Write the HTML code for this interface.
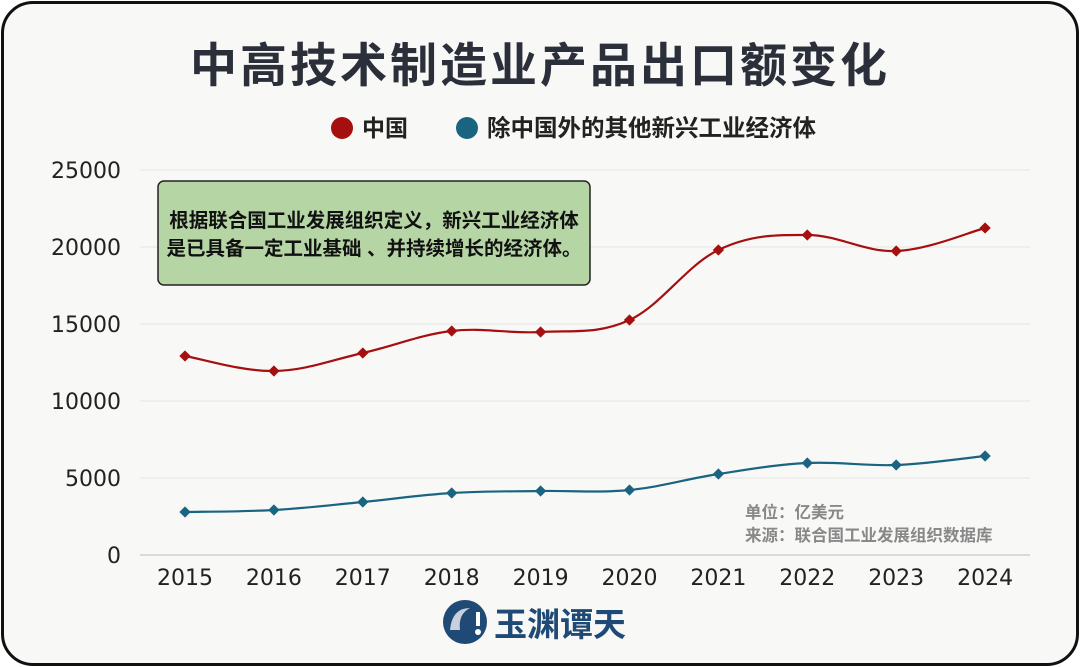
<!DOCTYPE html>
<html><head><meta charset="utf-8"><style>
html,body{margin:0;padding:0;background:#fff;}
#w{position:relative;width:1080px;height:667px;overflow:hidden;background:#fff;}
#f{position:absolute;left:1px;top:1px;width:1072px;height:659px;border:3px solid #111;border-radius:32px;background:#f8f8f6;}
svg{position:absolute;left:0;top:0;}
text{font-family:"Liberation Sans","Noto Sans CJK SC",sans-serif;}
.n{font-family:"DejaVu Sans",sans-serif;}
</style></head><body><div id="w"><div id="f"></div>
<svg width="1080" height="667" xmlns="http://www.w3.org/2000/svg">
<text x="540" y="82" text-anchor="middle" font-size="47" font-weight="bold" fill="#2b2f3a" letter-spacing="3">中高技术制造业产品出口额变化</text>
<circle cx="342" cy="128" r="11" fill="#a50f0f"/>
<text x="362" y="136" font-size="23" font-weight="bold" fill="#222">中国</text>
<circle cx="467" cy="128" r="11" fill="#1a6482"/>
<text x="487" y="136" font-size="23.5" font-weight="bold" fill="#222">除中国外的其他新兴工业经济体</text>
<g stroke="#e3e3e3" stroke-width="1">
<line x1="140" x2="1030" y1="170" y2="170"/><line x1="140" x2="1030" y1="247" y2="247"/><line x1="140" x2="1030" y1="324" y2="324"/><line x1="140" x2="1030" y1="401" y2="401"/><line x1="140" x2="1030" y1="478" y2="478"/>
</g>
<line x1="140" x2="1030" y1="555" y2="555" stroke="#bbb"/>
<g font-size="22" fill="#222" text-anchor="end" class="n">
<text class="n" x="121" y="178">25000</text><text class="n" x="121" y="255">20000</text><text class="n" x="121" y="332">15000</text><text class="n" x="121" y="409">10000</text><text class="n" x="121" y="486">5000</text><text class="n" x="121" y="563">0</text>
</g>
<g id="xl" font-size="22" fill="#222" text-anchor="middle"></g>
<rect x="158" y="181" width="432" height="104" rx="6" fill="#b5d5a5" stroke="#222" stroke-width="1.5"/>
<text x="374" y="227" text-anchor="middle" font-size="19.5" font-weight="bold" fill="#111">根据联合国工业发展组织定义，新兴工业经济体</text>
<text x="374" y="255" text-anchor="middle" font-size="19.5" font-weight="bold" fill="#111">是已具备一定工业基础 、并持续增长的经济体。</text>
<path id="p1" fill="none" stroke="#a50f0f" stroke-width="2.2"/>
<path id="p2" fill="none" stroke="#1a6482" stroke-width="2.2"/>
<g id="m"></g>
<text x="745" y="518" font-size="16.5" font-weight="bold" fill="#888">单位：亿美元</text>
<text x="745" y="541" font-size="16.5" font-weight="bold" fill="#888">来源：联合国工业发展组织数据库</text>
<circle cx="465" cy="622" r="22" fill="#1f4a75"/>
<path d="M450 630 q2 -22 20 -22 q-12 6 -10 22z" fill="#c9cfdc"/>
<rect x="476" y="612" width="4" height="14" fill="#fff"/><circle cx="478" cy="632" r="3" fill="#fff"/>
<text x="494" y="636" font-size="33" fill="#1f4a75" font-family="Liberation Serif,'Noto Serif CJK SC',serif" font-weight="bold">玉渊谭天</text>
</svg>
<script>
const xs=[],yrs=[2015,2016,2017,2018,2019,2020,2021,2022,2023,2024];
for(let i=0;i<10;i++)xs.push(185+i*88.9);
const a=[356,371,353,331,332,320,250,235,251,228];
const b=[512,510,502,493,491,490,474,463,465,456];
function path(ys){let d=`M${xs[0]},${ys[0]}`;const n=ys.length;
for(let i=0;i<n-1;i++){const x0=xs[Math.max(i-1,0)],y0=ys[Math.max(i-1,0)],x3=xs[Math.min(i+2,n-1)],y3=ys[Math.min(i+2,n-1)];
const t=0.18;const c1x=xs[i]+(xs[i+1]-x0)*t,c1y=ys[i]+(ys[i+1]-y0)*t,c2x=xs[i+1]-(x3-xs[i])*t,c2y=ys[i+1]-(y3-ys[i])*t;
d+=` C${c1x},${c1y} ${c2x},${c2y} ${xs[i+1]},${ys[i+1]}`;}return d;}
document.getElementById('p1').setAttribute('d',path(a));
document.getElementById('p2').setAttribute('d',path(b));
let m='',xl='';
for(let i=0;i<10;i++){m+=`<rect x="${xs[i]-4}" y="${a[i]-4}" width="8" height="8" fill="#a50f0f" transform="rotate(45 ${xs[i]} ${a[i]})"/>`;
m+=`<rect x="${xs[i]-4}" y="${b[i]-4}" width="8" height="8" fill="#1a6482" transform="rotate(45 ${xs[i]} ${b[i]})"/>`;
xl+=`<text class="n" x="${xs[i]}" y="585">${yrs[i]}</text>`;}
document.getElementById('m').innerHTML=m;document.getElementById('xl').innerHTML=xl;
</script>
</div></body></html>
